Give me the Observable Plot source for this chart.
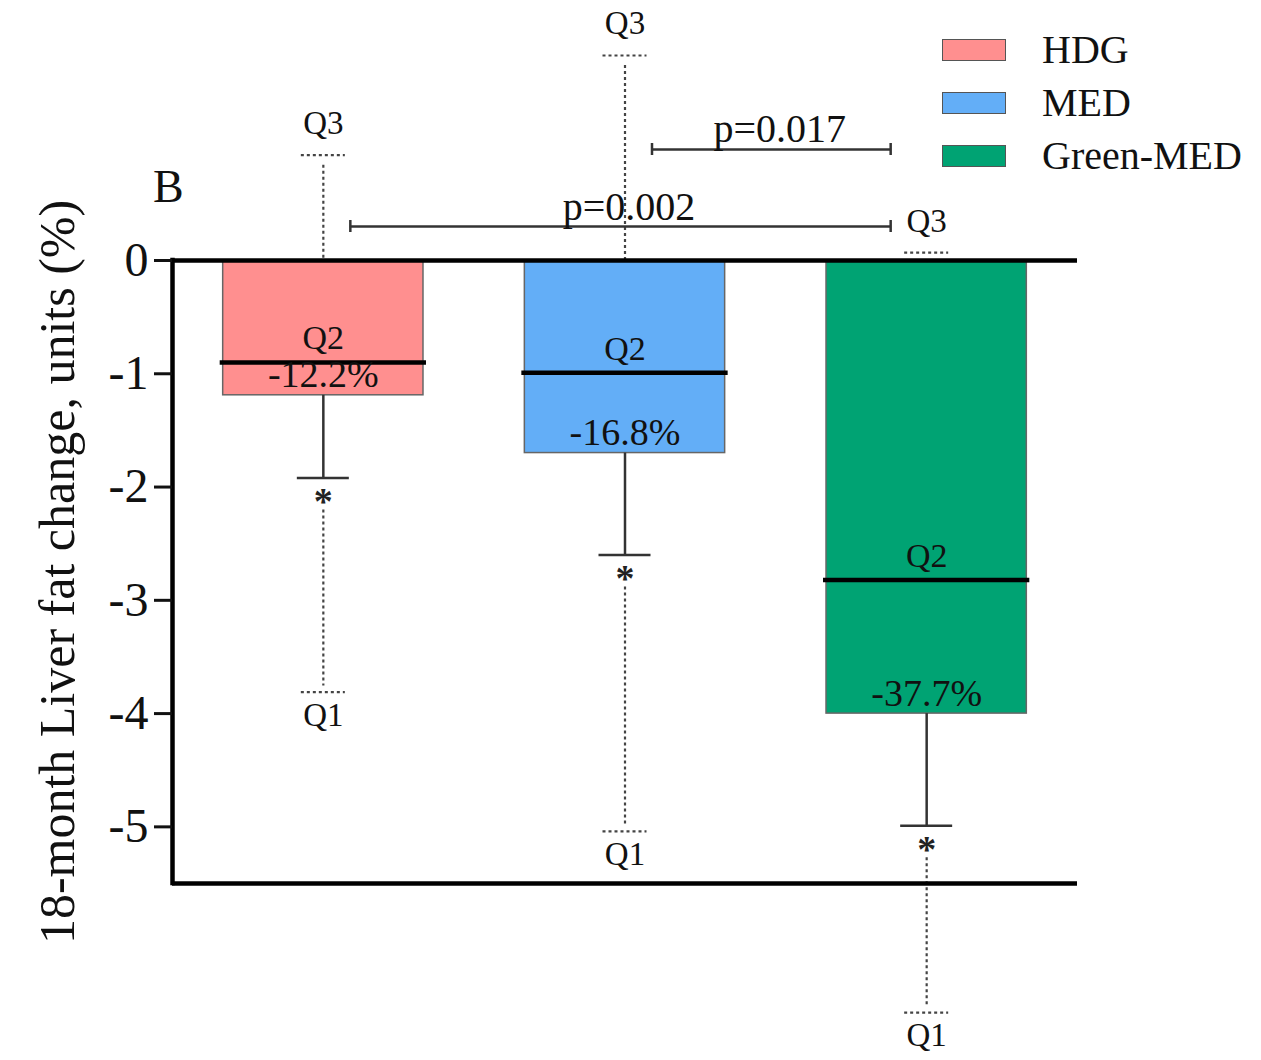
<!DOCTYPE html>
<html>
<head>
<meta charset="utf-8">
<script src="https://cdn.jsdelivr.net/npm/d3@7"></script>
<script src="https://cdn.jsdelivr.net/npm/@observablehq/plot@0.6"></script>
<style>
  body { margin: 0; background: #fff; }
  #wrap { position: relative; width: 1261px; height: 1060px; font-family: "Liberation Serif", "Times New Roman", serif; color: #111; }
  #chart { position: absolute; left: 0; top: 0; }
  #chart g[aria-label="y-axis label"] { font-size: 50px; }
  #panel { position: absolute; left: 153px; top: 164px; font-size: 46px; line-height: 1; }
  #legend { position: absolute; left: 942px; top: 23px; }
  .item { display: flex; align-items: center; height: 53px; }
  .sw { width: 64px; height: 22px; border: 1.5px solid #555; margin-right: 36px; box-sizing: border-box; }
  .lab { font-size: 40px; line-height: 1; }
</style>
</head>
<body>
<div id="wrap">
  <div id="chart"></div>
  <div id="panel">B</div>
  <div id="legend"></div>
</div>
<script>
// ---- data ----
const groups = ["HDG", "MED", "Green-MED"];
const means = [-1.19, -1.70, -4.00];      // bar (mean change)
const medians = [-0.90, -0.99, -2.82];    // Q2 line
const errLow = [-1.92, -2.60, -4.99];     // solid error bar end
const q1 = [-3.81, -5.04, -6.64];
const q3 = [0.93, 1.81, 0.07];
const pctLabels = ["-12.2%", "-16.8%", "-37.7%"];
const colors = ["#FF8F8F", "#63AEF7", "#00A373"];
const yTicks = [0, -1, -2, -3, -4, -5];
const bracketFrom = ["HDG", "MED"];
const bracketTo = ["Green-MED", "Green-MED"];
const bracketY = [0.30, 0.98];
const bracketLabels = ["p=0.002", "p=0.017"];
const yLabel = "18-month Liver fat change, units (%)";

// ---- tables built from the arrays ----
const data = groups.map((g, i) => ({
  group: g, i, mean: means[i], median: medians[i], low: errLow[i],
  q1: q1[i], q3: q3[i], pct: pctLabels[i]
}));
const idx = g => groups.indexOf(g);
const brackets = bracketLabels.map((label, k) => ({
  from: idx(bracketFrom[k]), to: idx(bracketTo[k]), y: bracketY[k], label
}));

const xDomain = [-0.5, groups.length - 0.5];
const yDomain = [-5.5, 0];
const barHalf = 0.332;
const dotted = {stroke: "#444", strokeWidth: 2.2, strokeDasharray: "3,3"};
const solid = {stroke: "#333", strokeWidth: 2.5};
const ink = "#111";

const chart = Plot.plot({
  width: 1261,
  height: 1060,
  marginLeft: 172,
  marginRight: 184,
  marginTop: 260,
  marginBottom: 177,
  style: {fontFamily: "'Liberation Serif', 'Times New Roman', serif", background: "white", overflow: "visible", color: ink},
  x: {domain: xDomain, axis: null},
  y: {domain: yDomain, axis: null},
  color: {domain: groups, range: colors},
  marks: [
    Plot.rectY(data, {x1: d => d.i - barHalf, x2: d => d.i + barHalf, y1: 0, y2: "mean", fill: "group", stroke: "#666", strokeWidth: 1.5}),
    // Q3 whisker (dotted)
    Plot.ruleX(data, {x: "i", y1: "q3", y2: 0, insetTop: 10, ...dotted}),
    Plot.ruleY(data, {x1: "i", x2: "i", y: "q3", insetLeft: -22, insetRight: -22, ...dotted}),
    Plot.text(data, {x: "i", y: "q3", text: () => "Q3", lineAnchor: "bottom", dy: -21, fontSize: 33, fill: ink}),
    // solid error bar
    Plot.ruleX(data, {x: "i", y1: "mean", y2: "low", ...solid}),
    Plot.ruleY(data, {x1: "i", x2: "i", y: "low", insetLeft: -26, insetRight: -26, ...solid}),
    Plot.text(data, {x: "i", y: "low", text: () => "*", lineAnchor: "top", dy: 9, fontSize: 38, fontWeight: "bold", fill: "#222"}),
    // Q1 whisker (dotted)
    Plot.ruleX(data, {x: "i", y1: "low", y2: "q1", insetTop: 32, insetBottom: 6, ...dotted}),
    Plot.ruleY(data, {x1: "i", x2: "i", y: "q1", insetLeft: -22, insetRight: -22, ...dotted}),
    Plot.text(data, {x: "i", y: "q1", text: () => "Q1", lineAnchor: "top", dy: 10, fontSize: 33, fill: ink}),
    // median (Q2)
    Plot.ruleY(data, {x1: d => d.i - barHalf, x2: d => d.i + barHalf, y: "median", insetLeft: -3, insetRight: -3, stroke: "#000", strokeWidth: 4.5}),
    Plot.text(data, {x: "i", y: "median", text: () => "Q2", lineAnchor: "bottom", dy: -13, fontSize: 34, fill: ink}),
    Plot.text(data, {x: "i", y: "mean", text: "pct", lineAnchor: "bottom", dy: -8, fontSize: 38, fill: ink}),
    // significance brackets
    Plot.ruleY(brackets, {x1: "from", x2: "to", y: "y", insetLeft: 27, insetRight: 36, ...solid}),
    Plot.ruleX(brackets, {x: "from", y1: "y", y2: "y", dx: 27, insetTop: -6, insetBottom: -6, ...solid}),
    Plot.ruleX(brackets, {x: "to", y1: "y", y2: "y", dx: -36, insetTop: -6, insetBottom: -6, ...solid}),
    Plot.text(brackets, {x: d => (d.from + d.to) / 2, y: "y", text: "label", lineAnchor: "bottom", dy: -7, dx: 4, fontSize: 40, fill: ink}),
    // axes and frame lines
    Plot.ruleY([0], {stroke: "#000", strokeWidth: 4.5}),
    Plot.ruleY([yDomain[0]], {stroke: "#000", strokeWidth: 4.5}),
    Plot.ruleX([xDomain[0]], {y1: yDomain[0], y2: yDomain[1], stroke: "#000", strokeWidth: 4.5, strokeLinecap: "square"}),
    Plot.axisY({
      ticks: yTicks, tickSize: 18, tickPadding: 6, strokeWidth: 3, fontSize: 48,
      tickFormat: d => `${d}`, label: yLabel, labelAnchor: "center", labelOffset: 134, labelArrow: "none", color: ink
    })
  ]
});
document.getElementById("chart").appendChild(chart);

// legend
const legend = document.getElementById("legend");
groups.forEach((g, i) => {
  const row = document.createElement("div");
  row.className = "item";
  const sw = document.createElement("div");
  sw.className = "sw";
  sw.style.background = colors[i];
  const lab = document.createElement("div");
  lab.className = "lab";
  lab.textContent = g;
  row.appendChild(sw); row.appendChild(lab);
  legend.appendChild(row);
});
</script>
</body>
</html>
